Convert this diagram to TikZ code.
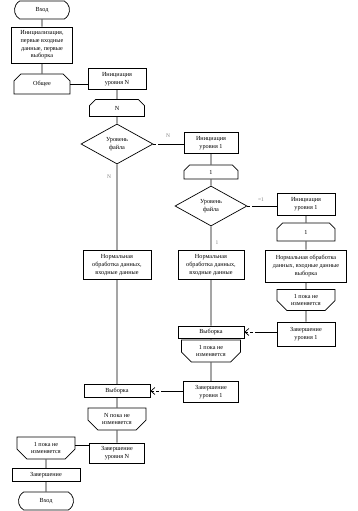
\documentclass[tikz,border=0pt]{standalone}
\usepackage{fontspec}
\setmainfont{Liberation Serif}
\usepackage{tikz}
\usetikzlibrary{arrows.meta, shapes.geometric, shapes.misc}
\tikzset{
  blk/.style={draw, rectangle, inner sep=1pt, align=center},
  term/.style={draw, rounded rectangle, rounded rectangle arc length=120, minimum width=57pt, minimum height=18pt, inner sep=1pt},
  loopbeg/.style={draw, chamfered rectangle, chamfered rectangle corners={north west, north east}, chamfered rectangle xsep=7pt, inner sep=1pt, align=center},
  loopend/.style={draw, chamfered rectangle, chamfered rectangle corners={south west, south east}, chamfered rectangle xsep=7pt, inner sep=1pt, align=center},
  decision/.style={draw, diamond, aspect=1.8, minimum width=72pt, minimum height=40pt, inner sep=0pt, align=center},
  lbl/.style={font=\fontsize{5.5}{6}\selectfont, text=gray},
  gapline/.style={dash pattern=on 3pt off 2pt on 300pt off 0pt},
  tipdash/.style={dash pattern=on 3pt off 2pt on 3pt off 2pt on 300pt off 0pt}
}

\begin{document}
\begin{tikzpicture}[x=1pt, y=-1pt, >={Straight Barb[length=4pt, width=7pt]}, line width=0.7pt,
  font=\fontsize{6.2}{7.6}\selectfont]
  \useasboundingbox (0,0) rectangle (357,511);

  % outer level
  \node[term] (entr) at (42,10) {Вход};
  \node[blk, minimum width=61pt, minimum height=36pt] (init) at (42,45) {Инициализация,\\первые входные\\данные, первые\\выборка};
  \node[loopbeg, minimum width=56pt, minimum height=20pt] (obsh) at (42,84) {Общее};
  \draw (entr) -- (init) -- (obsh);

  % level N
  \node[blk, minimum width=58pt, minimum height=21pt] (initN) at (117,79) {Инициация\\уровня N};
  \node[loopbeg, minimum width=55pt, minimum height=17pt] (loopN) at (117,108) {N};
  \node[decision] (dec1) at (117,144) {Уровень\\файла};
  \node[blk, minimum width=68pt, minimum height=29pt] (normN) at (117,265) {Нормальная\\обработка данных,\\входные данные};
  \node[blk, minimum width=66pt, minimum height=13pt] (vybN) at (117,391) {Выборка};
  \node[loopend, minimum width=58pt, minimum height=22pt] (untilN) at (117,419) {N пока не\\изменяется};
  \node[blk, minimum width=55pt, minimum height=20pt] (zavN) at (117,453) {Завершение\\уровня N};
  \draw (obsh.east) -- (obsh.east -| initN.west);
  \draw (initN) -- (loopN) -- (dec1) -- (normN) -- (vybN) -- (untilN) -- (zavN);
  \node[lbl] (lblN2) at (109,177) {N};

  % level 1
  \node[blk, minimum width=54pt, minimum height=21pt] (init1) at (211,143) {Инициация\\уровня 1};
  \node[loopbeg, minimum width=54pt, minimum height=14pt] (loop1) at (211,172) {1};
  \node[decision] (dec2) at (211,206) {Уровень\\файла};
  \node[blk, minimum width=66pt, minimum height=29pt] (norm1) at (211,265) {Нормальная\\обработка данных,\\входные данные};
  \node[blk, minimum width=66pt, minimum height=12pt] (vyb1) at (211,332) {Выборка};
  \node[loopend, minimum width=59pt, minimum height=22pt] (until1) at (211,351) {1 пока не\\изменяется};
  \node[blk, minimum width=55pt, minimum height=21pt] (zav1) at (211,392) {Завершение\\уровня 1};
  \draw[gapline] (dec1.east) -- (dec1.east -| init1.west);
  \draw (init1) -- (loop1) -- (dec2) -- (norm1) -- (vyb1) -- (until1) -- (zav1);
  \draw[<-, tipdash] (vybN.east) -- (vybN.east -| zav1.west);
  \node[lbl] (lblN1) at (168,136) {N};
  \node[lbl] (lbl1) at (217,243) {1};

  % right branch
  \node[blk, minimum width=58pt, minimum height=22pt] (init1R) at (306,204) {Инициация\\уровня 1};
  \node[loopbeg, minimum width=58pt, minimum height=18pt] (loop1R) at (306,232) {1};
  \node[blk, minimum width=81pt, minimum height=32pt] (normR) at (306,266) {Нормальная обработка\\данных, входные данные\\выборка};
  \node[loopend, minimum width=58pt, minimum height=21pt] (until1R) at (306,300) {1 пока не\\изменяется};
  \node[blk, minimum width=58pt, minimum height=24pt] (zav1R) at (306,334) {Завершение\\уровня 1};
  \draw[gapline] (dec2.east) -- (dec2.east -| init1R.west);
  \draw (init1R) -- (loop1R) -- (normR) -- (until1R) -- (zav1R);
  \draw[<-, tipdash] (vyb1.east) -- (vyb1.east -| zav1R.west);
  \node[lbl] (lblEq) at (261,200) {=1};

  % end
  \node[loopend, minimum width=58pt, minimum height=22pt] (until1A) at (46,448) {1 пока не\\изменяется};
  \node[blk, minimum width=68pt, minimum height=13pt] (zav) at (46,475) {Завершение};
  \node[term] (exitT) at (46,501) {Вход};
  \draw ([yshift=3pt]until1A.east) -- ([yshift=3pt]until1A.east -| zavN.west);
  \draw (until1A) -- (zav) -- (exitT);
\end{tikzpicture}
\end{document}
